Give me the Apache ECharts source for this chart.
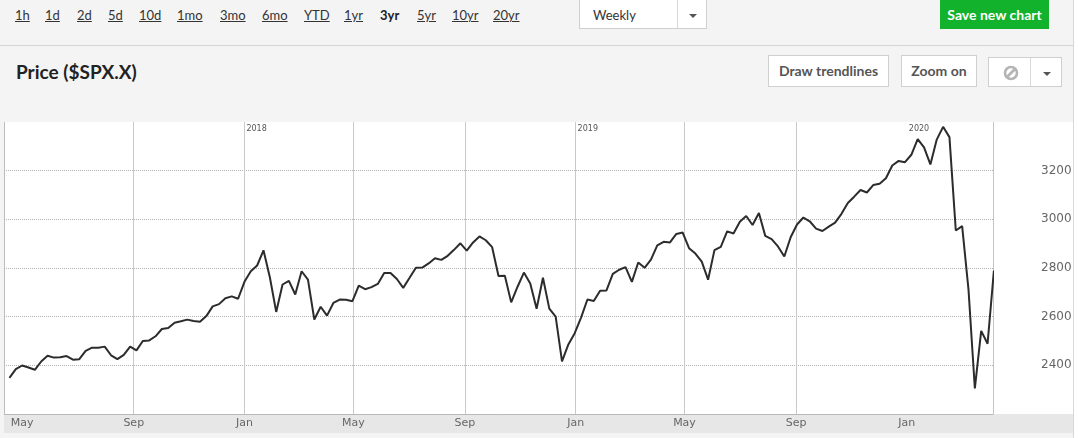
<!DOCTYPE html>
<html>
<head>
<meta charset="utf-8">
<script src="https://cdn.jsdelivr.net/npm/echarts@6/dist/echarts.min.js"></script>
<style>
html,body{margin:0;padding:0;width:1078px;height:438px;overflow:hidden;background:#fff;font-family:Lato,"Open Sans",sans-serif;}
#page{position:absolute;left:0;top:0;width:1073px;height:438px;background:#f4f4f4;border-right:1px solid #d8d8d8;}
.lnk{position:absolute;top:7px;font-size:13px;line-height:16px;color:#333;text-decoration:underline;white-space:nowrap;}
.lnk.cur{font-weight:bold;text-decoration:none;color:#222;}
.box{position:absolute;background:#fff;border:1px solid #cfcfcf;box-sizing:border-box;}
.caret{position:absolute;width:0;height:0;border-left:4px solid transparent;border-right:4px solid transparent;border-top:4px solid #555;}
.btn{position:absolute;background:#fff;border:1px solid #cfcfcf;box-sizing:border-box;font-weight:bold;font-size:14px;color:#555;text-align:center;}
#sep{position:absolute;left:0;top:45px;width:1073px;height:1px;background:#d4d4d4;}
#title{position:absolute;left:16px;top:60px;font-size:19px;line-height:24px;font-weight:bold;color:#222;white-space:nowrap;}
#plotwrap{position:absolute;left:4px;top:122px;width:1069px;height:311px;background:#fff;}
#band{position:absolute;left:0;top:292px;width:1069px;height:19px;background:#e7e7e7;}
#leftline{position:absolute;left:0;top:0;width:1px;height:292px;background:#bdbdbd;}
#chart{position:absolute;left:0;top:0;width:1069px;height:311px;}
</style>
</head>
<body>
<div id="page">
  <span class="lnk" style="left:15px">1h</span>
  <span class="lnk" style="left:45px">1d</span>
  <span class="lnk" style="left:77px">2d</span>
  <span class="lnk" style="left:108px">5d</span>
  <span class="lnk" style="left:139px">10d</span>
  <span class="lnk" style="left:177px">1mo</span>
  <span class="lnk" style="left:220px">3mo</span>
  <span class="lnk" style="left:262px">6mo</span>
  <span class="lnk" style="left:304px">YTD</span>
  <span class="lnk" style="left:344px">1yr</span>
  <span class="lnk cur" style="left:380px">3yr</span>
  <span class="lnk" style="left:417px">5yr</span>
  <span class="lnk" style="left:452px">10yr</span>
  <span class="lnk" style="left:493px">20yr</span>

  <div class="box" style="left:579px;top:-1px;width:128px;height:30px;">
    <span style="position:absolute;left:13px;top:7px;font-size:13px;line-height:16px;color:#333;">Weekly</span>
    <div style="position:absolute;left:97px;top:0;width:1px;height:28px;background:#d8d8d8;"></div>
    <div class="caret" style="left:109px;top:14px;"></div>
  </div>

  <div style="position:absolute;left:940px;top:-2px;width:109px;height:31px;background:#13b22c;color:#fff;font-weight:bold;font-size:14px;line-height:34px;text-align:center;">Save new chart</div>

  <div id="sep"></div>
  <div id="title">Price ($SPX.X)</div>

  <div class="btn" style="left:768px;top:55px;width:121px;height:32px;line-height:30px;">Draw trendlines</div>
  <div class="btn" style="left:901px;top:55px;width:76px;height:32px;line-height:30px;">Zoom on</div>
  <div class="box" style="left:988px;top:57px;width:74px;height:30px;">
    <svg style="position:absolute;left:14px;top:7px;" width="16" height="16" viewBox="0 0 16 16">
      <circle cx="8" cy="8" r="6" fill="none" stroke="#b4b4b4" stroke-width="2.6"/>
      <line x1="4" y1="12" x2="12" y2="4" stroke="#b4b4b4" stroke-width="2.6"/>
    </svg>
    <div style="position:absolute;left:41px;top:0;width:1px;height:28px;background:#d8d8d8;"></div>
    <div class="caret" style="left:54px;top:14px;"></div>
  </div>

  <div id="plotwrap">
    <div id="band"></div>
    <div id="leftline"></div>
    <div id="chart"></div>
  </div>
</div>
<script>
// ---- data (weekly closes, plotted at the start of each week) ----
const weekStarts = [
'2017-04-17','2017-04-24','2017-05-01','2017-05-08','2017-05-15','2017-05-22','2017-05-29','2017-06-05','2017-06-12','2017-06-19','2017-06-26',
'2017-07-03','2017-07-10','2017-07-17','2017-07-24','2017-07-31','2017-08-07','2017-08-14','2017-08-21','2017-08-28','2017-09-04','2017-09-11',
'2017-09-18','2017-09-25','2017-10-02','2017-10-09','2017-10-16','2017-10-23','2017-10-30','2017-11-06','2017-11-13','2017-11-20','2017-11-27',
'2017-12-04','2017-12-11','2017-12-18','2017-12-25',
'2018-01-01','2018-01-08','2018-01-15','2018-01-22','2018-01-29','2018-02-05','2018-02-12','2018-02-19','2018-02-26','2018-03-05','2018-03-12',
'2018-03-19','2018-03-26','2018-04-02','2018-04-09','2018-04-16','2018-04-23','2018-04-30','2018-05-07','2018-05-14','2018-05-21','2018-05-28',
'2018-06-04','2018-06-11','2018-06-18','2018-06-25','2018-07-02','2018-07-09','2018-07-16','2018-07-23','2018-07-30','2018-08-06','2018-08-13',
'2018-08-20','2018-08-27','2018-09-03','2018-09-10','2018-09-17','2018-09-24','2018-10-01','2018-10-08','2018-10-15','2018-10-22','2018-10-29',
'2018-11-05','2018-11-12','2018-11-19','2018-11-26','2018-12-03','2018-12-10','2018-12-17','2018-12-24','2018-12-31',
'2019-01-07','2019-01-14','2019-01-21','2019-01-28','2019-02-04','2019-02-11','2019-02-18','2019-02-25','2019-03-04','2019-03-11','2019-03-18',
'2019-03-25','2019-04-01','2019-04-08','2019-04-15','2019-04-22','2019-04-29','2019-05-06','2019-05-13','2019-05-20','2019-05-27','2019-06-03',
'2019-06-10','2019-06-17','2019-06-24','2019-07-01','2019-07-08','2019-07-15','2019-07-22','2019-07-29','2019-08-05','2019-08-12','2019-08-19',
'2019-08-26','2019-09-02','2019-09-09','2019-09-16','2019-09-23','2019-09-30','2019-10-07','2019-10-14','2019-10-21','2019-10-28','2019-11-04',
'2019-11-11','2019-11-18','2019-11-25','2019-12-02','2019-12-09','2019-12-16','2019-12-23','2019-12-30',
'2020-01-06','2020-01-13','2020-01-20','2020-01-27','2020-02-03','2020-02-10','2020-02-17','2020-02-24','2020-03-02','2020-03-09','2020-03-16',
'2020-03-23','2020-03-30','2020-04-06'
];
const closes = [
2348.69,2384.20,2399.29,2390.90,2381.73,2415.82,2439.07,2431.77,2433.15,2438.30,2423.41,
2425.18,2459.27,2472.54,2472.10,2476.83,2441.32,2425.55,2443.05,2476.55,2461.43,2500.23,
2502.22,2519.36,2549.33,2553.17,2575.21,2581.07,2587.84,2582.30,2578.85,2602.42,2642.22,
2651.50,2675.81,2683.34,2673.61,
2743.15,2786.24,2810.30,2872.87,2762.13,2619.55,2732.22,2747.30,2691.25,2786.57,2752.01,
2588.26,2640.87,2604.47,2656.30,2670.14,2669.91,2663.42,2727.72,2712.97,2721.33,2734.62,
2779.03,2779.66,2754.88,2718.37,2759.82,2801.31,2801.83,2818.82,2840.35,2833.28,2850.13,
2874.69,2901.52,2871.68,2904.98,2929.67,2913.98,2885.57,2767.13,2767.78,2658.69,2723.06,
2781.01,2736.27,2632.56,2760.17,2633.08,2599.95,2416.62,2485.74,2531.94,
2596.26,2670.71,2664.76,2706.53,2707.88,2775.60,2792.67,2803.69,2743.07,2822.48,2800.71,
2834.40,2892.74,2907.41,2905.03,2939.88,2945.64,2881.40,2859.53,2826.06,2752.06,2873.34,
2886.98,2950.46,2941.76,2990.41,3013.77,2976.61,3025.86,2932.05,2918.65,2888.68,2847.11,
2926.46,2978.71,3007.39,2992.07,2961.79,2952.01,2970.27,2986.20,3022.55,3066.91,3093.08,
3120.46,3110.29,3140.98,3145.91,3168.80,3221.22,3240.02,3234.85,
3265.35,3329.62,3295.47,3225.52,3327.71,3380.16,3337.75,2954.22,2972.37,2711.02,2304.92,
2541.47,2488.65,2789.82
];
const xTickDates = ['2017-05-01','2017-09-01','2018-01-01','2018-05-01','2018-09-01','2019-01-01','2019-05-01','2019-09-01','2020-01-01'];
const xTickLabels = ['May','Sep','Jan','May','Sep','Jan','May','Sep','Jan'];
const yearDates = ['2018-01-01','2019-01-01','2020-01-01'];
const yearLabels = ['2018','2019','2020'];
const xRange = ['2017-04-11','2020-04-05'];
const yMin = 2200, yMax = 3400, yStep = 200;

function ts(s){const p=s.split('-').map(Number);return Date.UTC(p[0],p[1]-1,p[2]);}
const xTicks = xTickDates.map(ts);
const yearTicks = yearDates.map(ts);

const chart = echarts.init(document.getElementById('chart'), null, {renderer:'canvas', width:1069, height:311});
chart.setOption({
  animation:false,
  backgroundColor:'transparent',
  grid:{left:0, right:80, top:0, bottom:19, containLabel:false, outerBoundsMode:'none'},
  xAxis:[{
    type:'value', min:ts(xRange[0]), max:ts(xRange[1]), position:'bottom', scale:true,
    axisLine:{show:true, onZero:false, lineStyle:{color:'#b9b9b9', width:1}},
    axisTick:{show:false, customValues:xTicks},
    axisLabel:{customValues:xTicks, hideOverlap:false, color:'#666', fontSize:11, fontFamily:'DejaVu Sans', margin:4,
      formatter:function(v){const i=xTicks.indexOf(v);return i>=0?xTickLabels[i]:'';}},
    splitLine:{show:true, showMinLine:false, showMaxLine:false, lineStyle:{color:'#c9c9c9', width:1}}
  },{
    type:'value', min:ts(xRange[0]), max:ts(xRange[1]), position:'top', scale:true,
    axisLine:{show:false, onZero:false}, axisTick:{show:false, customValues:yearTicks}, splitLine:{show:false},
    axisLabel:{inside:true, customValues:yearTicks, hideOverlap:false, align:'left', color:'#555', fontSize:8, fontFamily:'DejaVu Sans', margin:3, padding:[0,0,0,2],
      formatter:function(v){const i=yearTicks.indexOf(v);return i>=0?yearLabels[i]:'';}}
  }],
  yAxis:{
    type:'value', position:'right', min:yMin, max:yMax, interval:yStep,
    axisLine:{show:true, onZero:false, lineStyle:{color:'#c4c4c4', width:1}},
    axisTick:{show:false},
    axisLabel:{color:'#666', fontSize:12, fontFamily:'DejaVu Sans', margin:48, showMinLabel:false, showMaxLabel:false,
      formatter:function(v){return String(v);}},
    splitLine:{show:true, showMinLine:false, showMaxLine:false, lineStyle:{type:'dotted', color:'#b3b3b3', width:1}}
  },
  series:[{
    type:'line', xAxisIndex:0, yAxisIndex:0,
    data: weekStarts.map(function(d,i){return [ts(d), closes[i]];}),
    showSymbol:false, symbol:'none', clip:false, silent:true,
    lineStyle:{color:'#2c2c2c', width:2}
  }]
});
</script>
</body>
</html>
